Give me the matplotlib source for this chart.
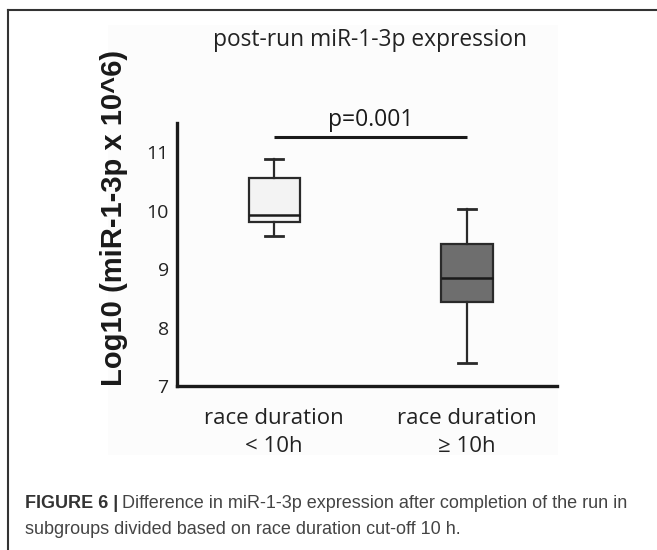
import matplotlib
matplotlib.use("Agg")
import matplotlib.pyplot as plt
from matplotlib.patches import Rectangle
from matplotlib.lines import Line2D

# box statistics (log10 scale)
groups = ["race duration\n< 10h", "race duration\n\u2265 10h"]
whislo = [9.56, 7.39]
q1 = [9.80, 8.44]
med = [9.92, 8.85]
q3 = [10.56, 9.43]
whishi = [10.88, 10.03]
face_colors = ["#f3f3f3", "#6e6e6e"]
p_text = "p=0.001"
p_level = 11.26

W, H = 657, 550
fig = plt.figure(figsize=(W / 100, H / 100), dpi=100)

# figure frame (top + left rule) and faint pasted-image background
fig.add_artist(Line2D([8 / W, 1], [1 - 10 / H, 1 - 10 / H], color="#333333", lw=1.5))
fig.add_artist(Line2D([8 / W, 8 / W], [0, 1 - 10 / H], color="#333333", lw=1.5))
fig.add_artist(Rectangle((108 / W, 1 - 455 / H), 450 / W, 430 / H,
                         facecolor="#fcfcfc", edgecolor="none", zorder=-1))

ax = fig.add_axes([177 / W, 1 - 386 / H, (557 - 177) / W, (386 - 123) / H])
ax.patch.set_alpha(0)

stats = []
for i in range(len(groups)):
    stats.append(dict(whislo=whislo[i], q1=q1[i], med=med[i], q3=q3[i],
                      whishi=whishi[i], fliers=[], label=groups[i]))
bp = ax.bxp(stats, positions=[1, 2], widths=0.265, patch_artist=True,
            showfliers=False,
            boxprops=dict(edgecolor="#2a2a2a", linewidth=1.6),
            medianprops=dict(color="#1a1a1a", linewidth=1.8),
            whiskerprops=dict(color="#2a2a2a", linewidth=1.6),
            capprops=dict(color="#2a2a2a", linewidth=2.0),
            capwidths=0.09)
for patch, c in zip(bp["boxes"], face_colors):
    patch.set_facecolor(c)

ax.plot([1, 2], [p_level, p_level], color="#1a1a1a", lw=2.2, solid_capstyle="butt")
ax.text(1.5, p_level + 0.08, p_text, ha="center", va="bottom",
        fontsize=16.5, family="Open Sans", color="#1a1a1a")

ax.set_xlim(0.497, 2.466)
ax.set_ylim(7, 11.5)
ax.set_yticks([7, 8, 9, 10, 11])
ax.tick_params(axis="y", length=0, pad=6, labelsize=14, labelcolor="#222222")
ax.tick_params(axis="x", length=0, pad=16, labelsize=16, labelcolor="#222222")
for lab in ax.get_yticklabels() + ax.get_xticklabels():
    lab.set_family("Open Sans")
for lab in ax.get_xticklabels():
    lab.set_linespacing(1.45)
for s in ["top", "right"]:
    ax.spines[s].set_visible(False)
for s in ["left", "bottom"]:
    ax.spines[s].set_linewidth(2.4)
    ax.spines[s].set_color("#1a1a1a")

ax.set_ylabel("Log10 (miR-1-3p x 10^6)", fontsize=21, fontweight="bold",
              family="Liberation Sans", color="#1a1a1a")
ax.yaxis.set_label_coords(-0.13, 0.64)

fig.text(370 / W, 1 - 40 / H, "post-run miR-1-3p expression", ha="center",
         va="center", fontsize=16.4, family="Open Sans", color="#222222")

# caption
cap_bold = fig.text(25 / W, 1 - 504 / H, "FIGURE 6 |", fontsize=13,
                    fontweight="bold", family="Liberation Sans",
                    color="#333333", va="center")
fig.canvas.draw()
bb = cap_bold.get_window_extent()
fig.text(bb.x1 / W + 4 / W, 1 - 504 / H,
         "Difference in miR-1-3p expression after completion of the run in",
         fontsize=13, family="Liberation Sans", color="#444444", va="center")
fig.text(25 / W, 1 - 529 / H,
         "subgroups divided based on race duration cut-off 10 h.",
         fontsize=13, family="Liberation Sans", color="#444444", va="center")

fig.savefig("out.png", dpi=100)
